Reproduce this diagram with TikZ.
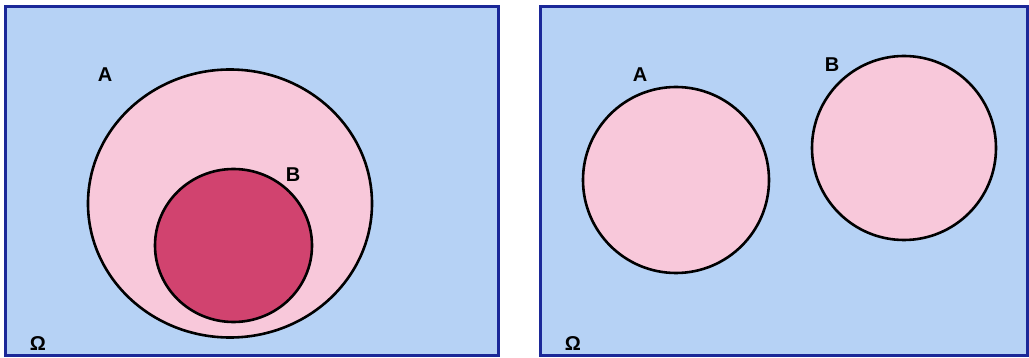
\documentclass[tikz,border=0pt]{standalone}
\usepackage{fontspec}
\setmainfont{Liberation Sans}
\definecolor{bgblue}{HTML}{B6D2F5}
\definecolor{frameblue}{HTML}{1B2898}
\definecolor{lightpink}{HTML}{F8C8DA}
\definecolor{darkpink}{HTML}{D1436F}
\begin{document}
\begin{tikzpicture}[x=1pt,y=-1pt,
  panel/.style={draw=frameblue, line width=3pt, fill=bgblue},
  setpink/.style={draw=black, line width=2.6pt, fill=lightpink},
  setdark/.style={draw=black, line width=2.6pt, fill=darkpink},
  lbl/.style={font=\fontsize{20}{22}\selectfont\bfseries, inner sep=0pt}]
\useasboundingbox (0,0) rectangle (1029,358);
\fill[white] (0,0) rectangle (1029,358);
% left panel
\draw[panel] (5,7) rectangle (498,355);
\draw[setpink] (230,203.5) ellipse [x radius=142, y radius=134];
\draw[setdark] (233.5,245.5) ellipse [x radius=78.5, y radius=76.5];
\node[lbl] (la) at (105,75) {A};
\node[lbl] (lb) at (293,175) {B};
\node[lbl] (lo) at (38,344) {Ω};
% right panel
\draw[panel] (540,7) rectangle (1027,355);
\draw[setpink] (676,180) circle [radius=93];
\draw[setpink] (904,148) circle [radius=92];
\node[lbl] (ra) at (640,75) {A};
\node[lbl] (rb) at (832,65) {B};
\node[lbl] (ro) at (573,344) {Ω};
\end{tikzpicture}
\end{document}
